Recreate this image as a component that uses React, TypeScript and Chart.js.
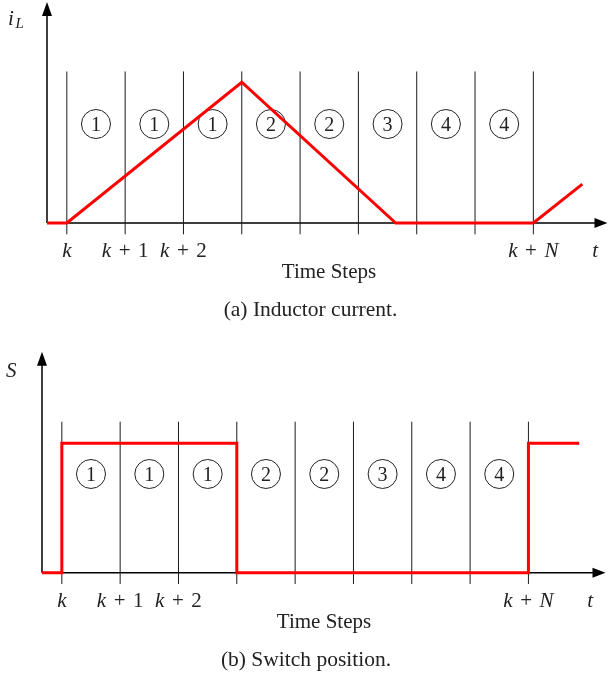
import React, { useEffect, useRef } from "react";
import { Chart, registerables } from "chart.js";

Chart.register(...registerables);

// ---- data ----
const STEP_LINES = [0, 1, 2, 3, 4, 5, 6, 7, 8];
const TICK_POS = [0, 1, 2, 8];
const TICK_LABELS = ["k", "k+1", "k+2", "k+N"];
const MODES = ["1", "1", "1", "2", "2", "3", "4", "4"];
const IL_X = [-0.34, 0, 3, 5.64, 8, 8.84];
const IL_Y = [0, 0, 3, 0, 0, 0.83];
const S_X = [-0.34, 0, 3, 8, 8.87];
const S_Y = [0, 1, 0, 1, 1];
const T_POS = 9.06;
const X_TITLE = "Time Steps";
const CAPTION_A = "(a) Inductor current.";
const CAPTION_B = "(b) Switch position.";

const SERIF = '"Liberation Serif", "Times New Roman", serif';

type Panel = {
  xs: number[];
  ys: number[];
  stepped: boolean;
  xMin: number;
  xMax: number;
  yMin: number;
  yMax: number;
  lineLo: number;
  lineHi: number;
  circleY: number;
  padding: { left: number; right: number; top: number; bottom: number };
  yLabel: "iL" | "S";
  caption: string;
  captionX: number;
  titleX: number;
  yLabelBase: number;
};

function drawMath(ctx: CanvasRenderingContext2D, text: string, cx: number, base: number, size: number) {
  const parts: { t: string; it: boolean; padL: number; padR: number }[] = [];
  for (const ch of text) {
    if (ch === "+") parts.push({ t: "+", it: false, padL: 0.36 * size, padR: 0.36 * size });
    else if (/[0-9]/.test(ch)) parts.push({ t: ch, it: false, padL: 0, padR: 0 });
    else parts.push({ t: ch, it: true, padL: 0, padR: 0 });
  }
  let total = 0;
  const widths: number[] = [];
  for (const p of parts) {
    ctx.font = `${p.it ? "italic " : ""}${size}px ${SERIF}`;
    const w = ctx.measureText(p.t).width;
    widths.push(w);
    total += w + p.padL + p.padR;
  }
  let x = cx - total / 2;
  ctx.textAlign = "left";
  ctx.textBaseline = "alphabetic";
  parts.forEach((p, i) => {
    ctx.font = `${p.it ? "italic " : ""}${size}px ${SERIF}`;
    x += p.padL;
    ctx.fillText(p.t, x, base);
    x += widths[i] + p.padR;
  });
}

function makeChart(canvas: HTMLCanvasElement, p: Panel) {
  const redData = p.xs.map((x, i) => ({ x, y: p.ys[i] }));
  const lineData = STEP_LINES.flatMap((v) => [
    { x: v, y: p.lineLo },
    { x: v, y: p.lineHi },
    { x: v, y: null as any },
  ]);
  const circleData = MODES.map((_, i) => ({ x: STEP_LINES[i] + 0.5, y: p.circleY }));

  const plugin = {
    id: "decor",
    beforeDatasetsDraw(chart: any) {
      const { ctx, chartArea, scales } = chart;
      const x0 = scales.x.getPixelForValue(p.xMin);
      const y0 = scales.y.getPixelForValue(0);
      const top = chartArea.top;
      const right = chartArea.right - 0.5;
      ctx.save();
      ctx.strokeStyle = "#000";
      ctx.fillStyle = "#000";
      ctx.lineWidth = 1.5;
      ctx.beginPath();
      ctx.moveTo(x0, y0);
      ctx.lineTo(x0, top + 10);
      ctx.moveTo(x0, y0);
      ctx.lineTo(right - 10, y0);
      ctx.stroke();
      ctx.beginPath();
      ctx.moveTo(x0, top);
      ctx.lineTo(x0 - 5, top + 14);
      ctx.lineTo(x0 + 5, top + 14);
      ctx.closePath();
      ctx.fill();
      ctx.beginPath();
      ctx.moveTo(right, y0);
      ctx.lineTo(right - 13, y0 - 5);
      ctx.lineTo(right - 13, y0 + 5);
      ctx.closePath();
      ctx.fill();
      ctx.restore();
    },
    afterDraw(chart: any) {
      const { ctx, scales } = chart;
      const y0 = scales.y.getPixelForValue(0);
      ctx.save();
      ctx.fillStyle = "#222";
      // circled digits
      const meta = chart.getDatasetMeta(2);
      ctx.font = `20px ${SERIF}`;
      ctx.textAlign = "center";
      ctx.textBaseline = "alphabetic";
      meta.data.forEach((el: any, i: number) => {
        ctx.fillText(MODES[i], el.x, el.y + 6.8);
      });
      // tick labels
      TICK_POS.forEach((v, i) => {
        drawMath(ctx, TICK_LABELS[i], scales.x.getPixelForValue(v), y0 + 34, 21);
      });
      drawMath(ctx, "t", scales.x.getPixelForValue(T_POS), y0 + 34, 21);
      // axis title
      ctx.font = `21px ${SERIF}`;
      ctx.textAlign = "center";
      ctx.fillText(X_TITLE, p.titleX, y0 + 55);
      ctx.font = `21.5px ${SERIF}`;
      ctx.fillText(p.caption, p.captionX, y0 + 93);
      // y label
      ctx.textAlign = "left";
      if (p.yLabel === "iL") {
        ctx.font = `italic 21px ${SERIF}`;
        ctx.fillText("i", 8, p.yLabelBase);
        ctx.font = `italic 15px ${SERIF}`;
        ctx.fillText("L", 15.5, p.yLabelBase + 3);
      } else {
        ctx.font = `italic 21px ${SERIF}`;
        ctx.fillText("S", 6, p.yLabelBase);
      }
      ctx.restore();
    },
  };

  return new Chart(canvas, {
    type: "line",
    data: {
      datasets: [
        {
          data: redData,
          borderColor: "#ff0000",
          borderWidth: 3,
          pointRadius: 0,
          stepped: p.stepped ? "before" : false,
          tension: 0,
          clip: false as any,
          order: 0,
          borderJoinStyle: "miter",
        } as any,
        {
          data: lineData,
          borderColor: "#1a1a1a",
          borderWidth: 1,
          pointRadius: 0,
          spanGaps: false,
          clip: false as any,
          order: 2,
        } as any,
        {
          data: circleData,
          showLine: false,
          pointRadius: 14.5,
          pointBorderWidth: 1,
          pointBorderColor: "#222",
          pointBackgroundColor: "rgba(255,255,255,0)",
          pointHoverRadius: 14.5,
          clip: false as any,
          order: 1,
        } as any,
      ],
    },
    options: {
      animation: false,
      responsive: false,
      events: [],
      layout: { padding: p.padding, autoPadding: false },
      plugins: { legend: { display: false }, tooltip: { enabled: false } },
      scales: {
        x: { type: "linear", display: false, min: p.xMin, max: p.xMax },
        y: { type: "linear", display: false, min: p.yMin, max: p.yMax },
      },
    },
    plugins: [plugin],
  });
}

const TOP_PANEL: Panel = {
  xs: IL_X,
  ys: IL_Y,
  stepped: false,
  xMin: -0.34,
  xMax: 9.28,
  yMin: -0.24,
  yMax: 4.71,
  lineLo: -0.24,
  lineHi: 3.23,
  circleY: 2.11,
  padding: { left: 47, right: 0, top: 2, bottom: 103.7 },
  yLabel: "iL",
  caption: CAPTION_A,
  captionX: 310.5,
  titleX: 329,
  yLabelBase: 25,
};

const BOTTOM_PANEL: Panel = {
  xs: S_X,
  ys: S_Y,
  stepped: true,
  xMin: -0.34,
  xMax: 9.33,
  yMin: -0.087,
  yMax: 1.708,
  lineLo: -0.087,
  lineHi: 1.167,
  circleY: 0.763,
  padding: { left: 42, right: 2, top: 13.7, bottom: 93 },
  yLabel: "S",
  caption: CAPTION_B,
  captionX: 306,
  titleX: 324,
  yLabelBase: 38.7,
};

export default function App() {
  const topRef = useRef<HTMLCanvasElement>(null);
  const botRef = useRef<HTMLCanvasElement>(null);
  useEffect(() => {
    const a = makeChart(topRef.current!, TOP_PANEL);
    const b = makeChart(botRef.current!, BOTTOM_PANEL);
    return () => {
      a.destroy();
      b.destroy();
    };
  }, []);
  return (
    <div style={{ position: "absolute", left: 0, top: 0, width: 608, height: 677, background: "#fff" }}>
      <canvas ref={topRef} width={608} height={338} style={{ position: "absolute", left: 0, top: 0 }} />
      <canvas ref={botRef} width={608} height={339} style={{ position: "absolute", left: 0, top: 338 }} />
    </div>
  );
}
